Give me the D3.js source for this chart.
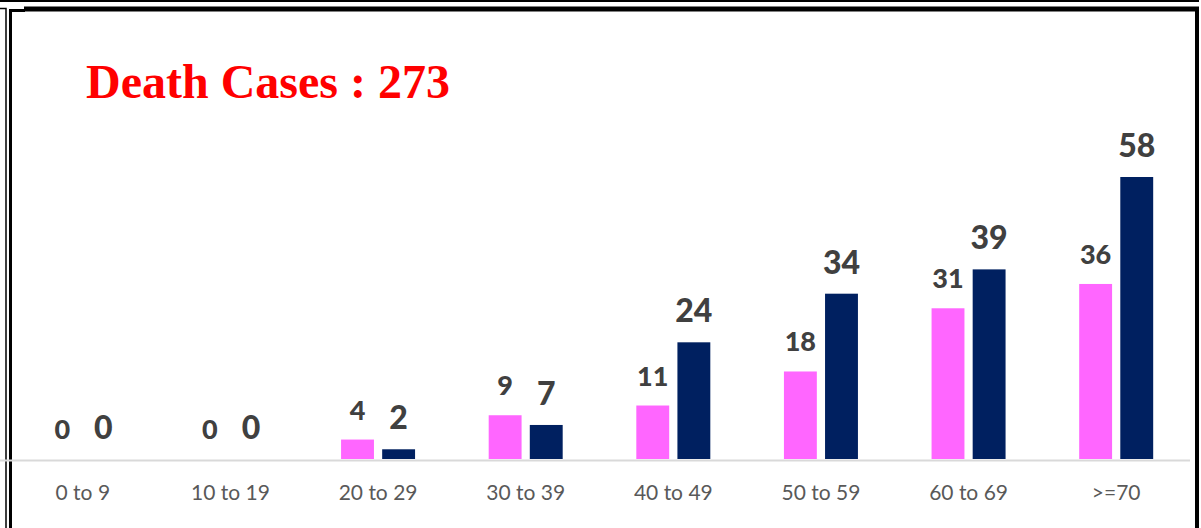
<!DOCTYPE html>
<html>
<head>
<meta charset="utf-8">
<script src="https://cdn.jsdelivr.net/npm/d3@7"></script>
<style>
  html, body { margin: 0; padding: 0; background: #fff; }
  svg { display: block; }
</style>
</head>
<body>
<div id="chart"></div>
<script>
/* global d3 */
const width = 1201
const height = 528

const categories = ['0 to 9', '10 to 19', '20 to 29', '30 to 39', '40 to 49', '50 to 59', '60 to 69', '>=70']
const femaleDeaths = [0, 0, 4, 9, 11, 18, 31, 36]
const maleDeaths = [0, 0, 2, 7, 24, 34, 39, 58]
const seriesNames = ['female', 'male']
const titleText = 'Death Cases : 273'

const colors = { female: '#ff66ff', male: '#002060' }

const svg = d3.select('#chart')
  .append('svg')
  .attr('width', width)
  .attr('height', height)

// frame lines
const frame = svg.append('g').attr('fill', 'none').attr('stroke', '#000')
frame.append('line').attr('x1', 0).attr('x2', 1199).attr('y1', 1).attr('y2', 1).attr('stroke-width', 2)
frame.append('path').attr('d', 'M0,8.5H6V528').attr('stroke-width', 1.5)
frame.append('path').attr('d', 'M10.5,528V10.5H25').attr('stroke-width', 3)
frame.append('line').attr('x1', 24).attr('x2', 1199).attr('y1', 9).attr('y2', 9).attr('stroke-width', 5)
frame.append('line').attr('x1', 1197).attr('x2', 1197).attr('y1', 7).attr('y2', 528).attr('stroke-width', 4)

const x0 = d3.scaleBand()
  .domain(categories)
  .range([9, 1190])

const bw = x0.bandwidth()
const x1 = d3.scaleBand()
  .domain(seriesNames)
  .range([bw / 2 - 37, bw / 2 + 37])
  .paddingInner(0.2)

const y = d3.scaleLinear()
  .domain([0, d3.max(maleDeaths)])
  .range([459, 177])

// baseline
svg.append('line')
  .attr('x1', 0)
  .attr('x2', 1190)
  .attr('y1', 460.5)
  .attr('y2', 460.5)
  .attr('stroke', '#d9d9d9')
  .attr('stroke-width', 2)

const rows = categories.map((c, i) => ({
  category: c,
  values: [
    { key: 'female', value: femaleDeaths[i] },
    { key: 'male', value: maleDeaths[i] }
  ]
}))

const groups = svg.selectAll('g.cat')
  .data(rows)
  .enter()
  .append('g')
  .attr('class', 'cat')
  .attr('transform', (d) => `translate(${x0(d.category)},0)`)

groups.selectAll('rect')
  .data((d) => d.values)
  .enter()
  .append('rect')
  .attr('x', (d) => x1(d.key))
  .attr('width', x1.bandwidth())
  .attr('y', (d) => y(d.value))
  .attr('height', (d) => y(0) - y(d.value))
  .attr('fill', (d) => colors[d.key])

groups.selectAll('text.val')
  .data((d) => d.values)
  .enter()
  .append('text')
  .attr('class', 'val')
  .attr('x', (d) => x1(d.key) + x1.bandwidth() / 2)
  .attr('y', (d) => y(d.value) - 20)
  .attr('text-anchor', 'middle')
  .attr('font-family', 'Lato, sans-serif')
  .attr('font-weight', 900)
  .attr('font-size', (d) => d.key === 'male' ? 32 : 27)
  .attr('fill', '#404040')
  .text((d) => d.value)

// category axis
const xAxis = svg.append('g')
  .attr('transform', 'translate(0,500)')
  .call(d3.axisBottom(x0).tickSize(0).tickPadding(0))
xAxis.select('.domain').remove()
xAxis.selectAll('text')
  .attr('dy', 0)
  .attr('font-family', 'Lato, sans-serif')
  .attr('font-size', 21)
  .attr('fill', '#595959')

svg.append('text')
  .attr('x', 86)
  .attr('y', 98)
  .attr('font-family', '"Liberation Serif", "Times New Roman", serif')
  .attr('font-weight', 'bold')
  .attr('font-size', 48)
  .attr('fill', '#ff0000')
  .text(titleText)
</script>
</body>
</html>
